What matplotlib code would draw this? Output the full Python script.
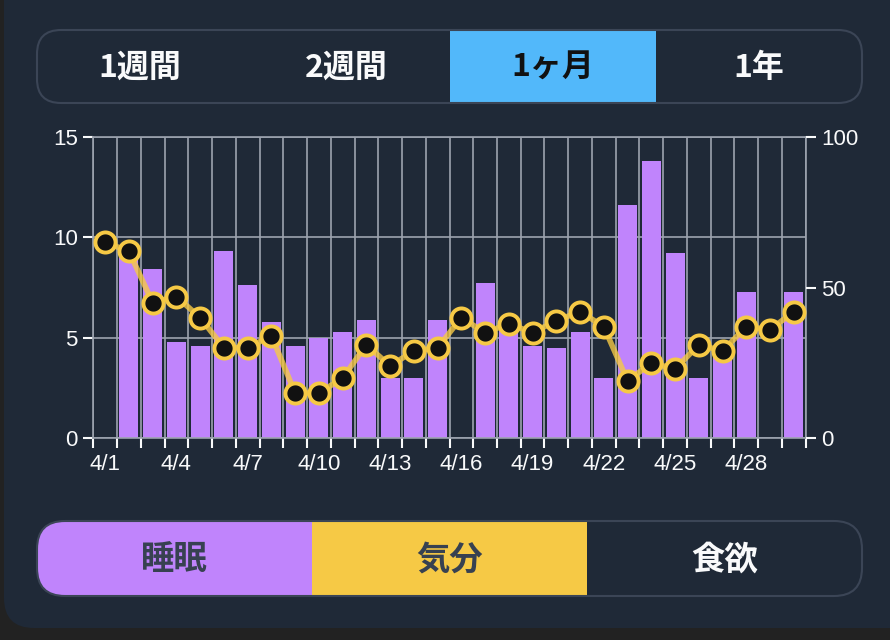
import numpy as np
import matplotlib
matplotlib.use("Agg")
import matplotlib.pyplot as plt
from matplotlib.patches import FancyBboxPatch, Rectangle

# ---- data ----
days = [f"4/{d}" for d in range(1, 31)]
sleep_hours = [np.nan, 9.2, 8.4, 4.8, 4.6, 9.3, 7.6, 5.8, 4.6, 5.0,
               5.3, 5.9, 3.0, 3.0, 5.9, np.nan, 7.7, 5.9, 4.6, 4.5,
               5.3, 3.0, 11.6, 13.8, 9.2, 3.0, 4.3, 7.3, np.nan, 7.3]
mood = [65, 62, 45, 47, 40, 30, 30, 34, 15, 15,
        20, 31, 24, 29, 30, 40, 35, 38, 35, 39,
        42, 37, 19, 25, 23, 31, 29, 37, 36, 42]
left_ticks = [0, 5, 10, 15]
right_ticks = [0, 50, 100]
period_labels = ["1週間", "2週間", "1ヶ月", "1年"]
metric_labels = ["睡眠", "気分", "食欲"]

# ---- styles ----
BG = "#1f2937"
OUTER = "#222222"
PURPLE = "#c084fc"
YELLOW = "#f6c945"
BLUE = "#52b8fa"
GRID = "#9ca3af"
BORDER = "#3b4556"
WHITE = "#f9fafb"
DARKTXT = "#374151"
CJK = ["Noto Sans CJK JP", "DejaVu Sans"]
NUM = ["Liberation Sans", "DejaVu Sans"]

W, H = 890, 640
fig = plt.figure(figsize=(W / 100, H / 100), dpi=100, facecolor=OUTER)

# background layer in pixel coordinates
bg = fig.add_axes([0, 0, 1, 1], zorder=0)
bg.set_xlim(0, W)
bg.set_ylim(H, 0)
bg.axis("off")

card = FancyBboxPatch((4, -60), W + 60, 688, boxstyle="round,pad=0,rounding_size=30",
                      fc=BG, ec="none")
bg.add_patch(card)

# top segmented control
tx0, tx1, ty0, ty1 = 37, 862, 30, 103
top_pill = FancyBboxPatch((tx0, ty0), tx1 - tx0, ty1 - ty0,
                          boxstyle="round,pad=0,rounding_size=24", fc="none", ec="none")
bg.add_patch(top_pill)
seg_w = (tx1 - tx0) / 4
sel = Rectangle((tx0 + 2 * seg_w, ty0 + 1), seg_w, ty1 - ty0 - 2, fc=BLUE, ec="none")
bg.add_patch(sel)
sel.set_clip_path(top_pill)
bg.add_patch(FancyBboxPatch((tx0, ty0), tx1 - tx0, ty1 - ty0,
                            boxstyle="round,pad=0,rounding_size=24", fc="none",
                            ec=BORDER, lw=1.5))
for i, lab in enumerate(period_labels):
    bg.text(tx0 + seg_w * (i + 0.5), 68, lab, family=CJK, weight="bold", fontsize=23,
            color="#111111" if i == 2 else WHITE, ha="center", va="center")

# bottom segmented control
bx0, bx1, by0, by1 = 37, 862, 521, 596
bot_pill = FancyBboxPatch((bx0, by0), bx1 - bx0, by1 - by0,
                          boxstyle="round,pad=0,rounding_size=28", fc="none", ec="none")
bg.add_patch(bot_pill)
bseg = (bx1 - bx0) / 3
for i, col in enumerate([PURPLE, YELLOW]):
    r = Rectangle((bx0 + i * bseg, by0), bseg, by1 - by0, fc=col, ec="none")
    bg.add_patch(r)
    r.set_clip_path(bot_pill)
bg.add_patch(FancyBboxPatch((bx0, by0), bx1 - bx0, by1 - by0,
                            boxstyle="round,pad=0,rounding_size=28", fc="none",
                            ec=BORDER, lw=1.5))
for i, lab in enumerate(metric_labels):
    bg.text(bx0 + bseg * (i + 0.5), 560, lab, family=CJK, weight="bold", fontsize=24,
            color=DARKTXT if i < 2 else WHITE, ha="center", va="center")

# ---- chart ----
left, right, bottom, top = 93.3 / W, 805.7 / W, 1 - 438.3 / H, 1 - 136.7 / H
ax = fig.add_axes([left, bottom, right - left, top - bottom], zorder=2)
ax.set_facecolor("none")
x = np.arange(len(days))
ax.bar(x, sleep_hours, width=0.8, color=PURPLE, zorder=2)
ax.set_xlim(-0.5, len(days) - 0.5)
ax.set_ylim(0, 15)
ax.set_yticks(left_ticks)
ax.set_yticklabels([str(t) for t in left_ticks], family=NUM, fontsize=16, color=WHITE)
ax.set_xticks(np.arange(len(days) + 1) - 0.5)
ax.set_xticklabels([])
ax.set_xticks(x[::3], minor=True)
ax.set_xticklabels(days[::3], minor=True, family=NUM, fontsize=16, color=WHITE)
ax.tick_params(axis="x", which="major", length=7.2, width=1.5, color=WHITE)
ax.tick_params(axis="x", which="minor", length=0, pad=11)
ax.tick_params(axis="y", length=7.2, width=1.5, color=WHITE, pad=4)
ax.grid(True, which="major", color=GRID, lw=1.2, zorder=0)
ax.set_axisbelow(True)
for s in ax.spines.values():
    s.set_color(GRID)
    s.set_linewidth(1.2)

ax2 = ax.twinx()
ax2.set_ylim(0, 100)
ax2.set_yticks(right_ticks)
ax2.set_yticklabels([str(t) for t in right_ticks], family=NUM, fontsize=16, color=WHITE)
ax2.tick_params(axis="y", length=7.2, width=1.5, color=WHITE, pad=4)
for s in ax2.spines.values():
    s.set_visible(False)
ax2.plot(x, mood, color=YELLOW, lw=4, alpha=0.8, zorder=3, solid_capstyle="round")
ax2.plot(x, mood, ls="none", marker="o", ms=14.5, mfc="#111111", mec=YELLOW, mew=2.8,
         zorder=4)

fig.savefig("out.png", dpi=100, facecolor=OUTER)
